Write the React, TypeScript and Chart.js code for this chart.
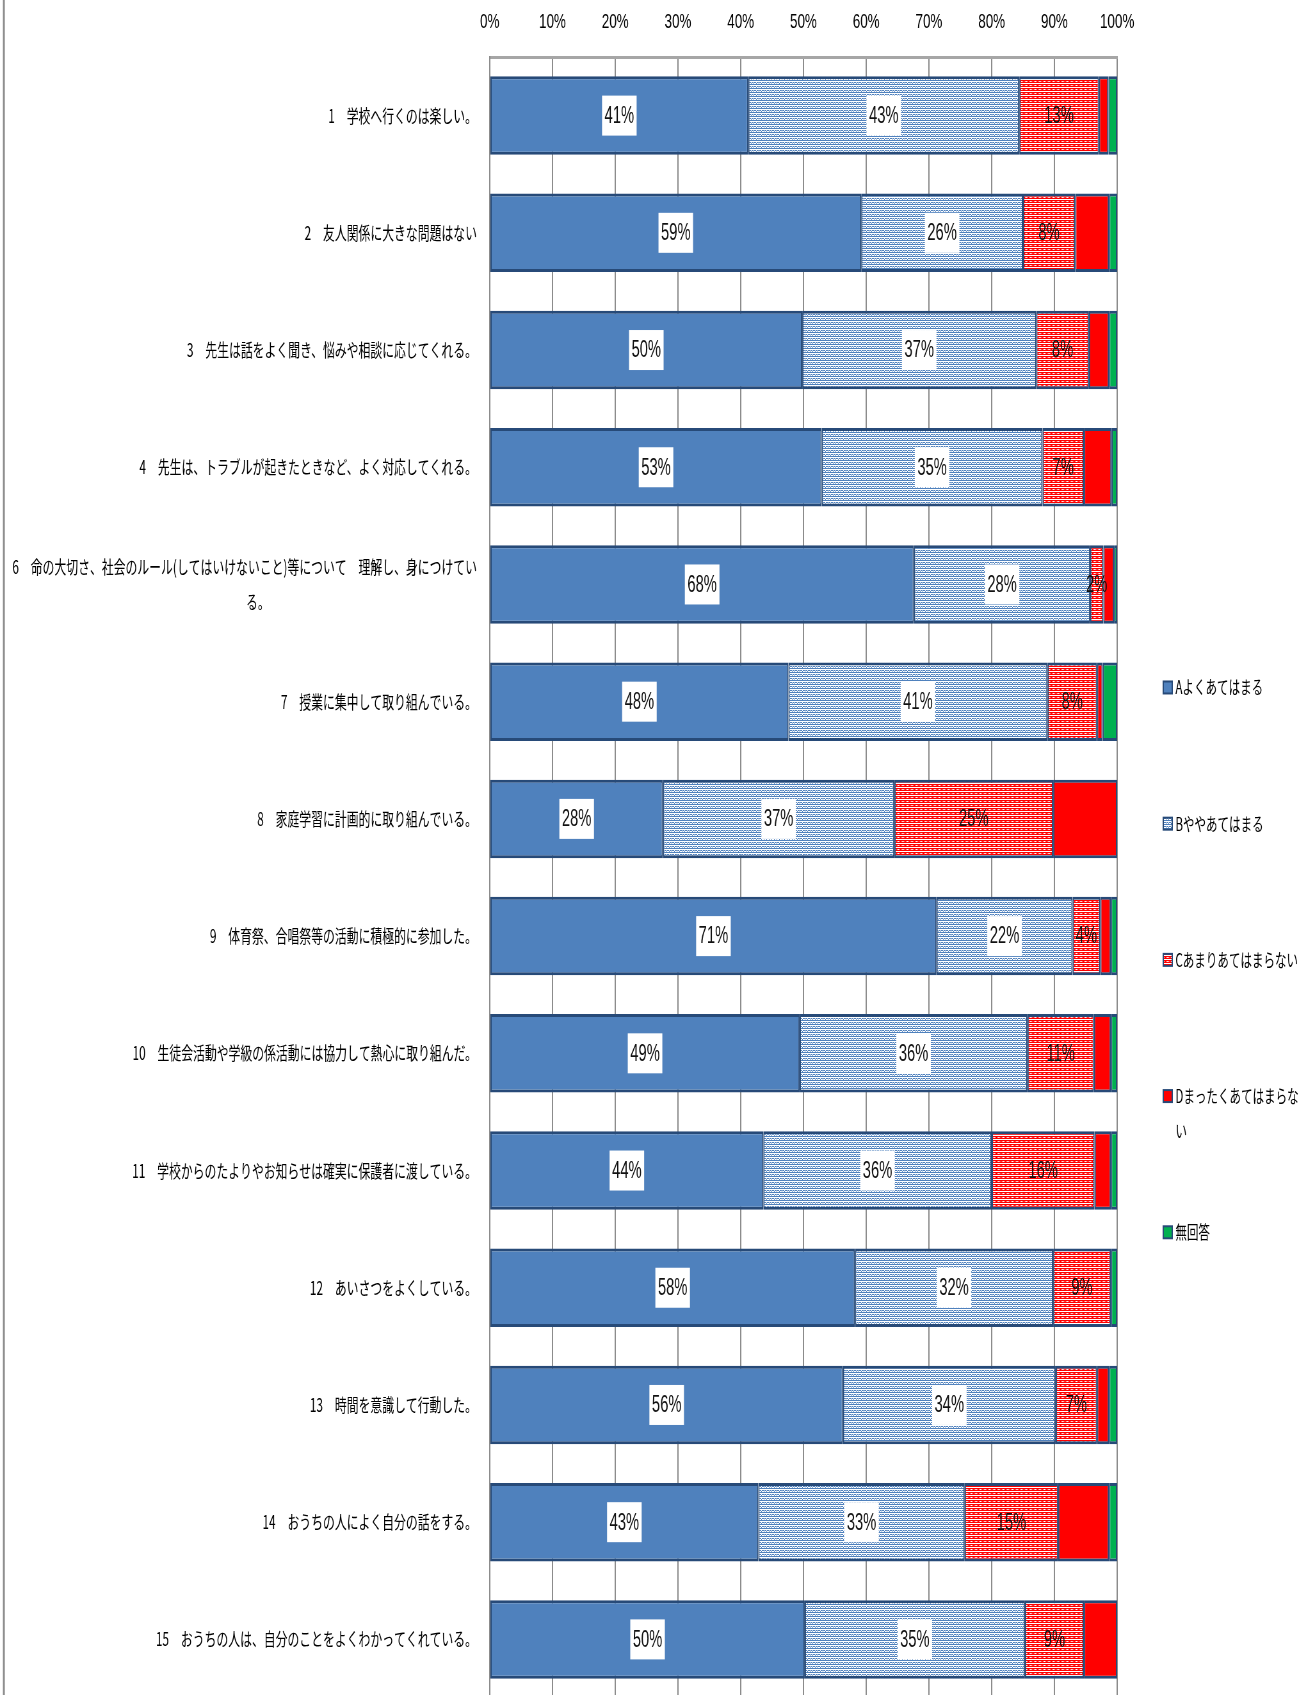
import React, { useEffect, useRef } from 'react';
import { Chart, registerables } from 'chart.js';
Chart.register(...registerables);

// ---- data ----
const categories: (string | string[])[] = [
  '1　学校へ行くのは楽しい。',
  '2　友人関係に大きな問題はない',
  '3　先生は話をよく聞き、悩みや相談に応じてくれる。',
  '4　先生は、トラブルが起きたときなど、よく対応してくれる。',
  ['6　命の大切さ、社会のルール(してはいけないこと)等について　理解し、身につけてい', 'る。' + '　'.repeat(18)],
  '7　授業に集中して取り組んでいる。',
  '8　家庭学習に計画的に取り組んでいる。',
  '9　体育祭、合唱祭等の活動に積極的に参加した。',
  '10　生徒会活動や学級の係活動には協力して熱心に取り組んだ。',
  '11　学校からのたよりやお知らせは確実に保護者に渡している。',
  '12　あいさつをよくしている。',
  '13　時間を意識して行動した。',
  '14　おうちの人によく自分の話をする。',
  '15　おうちの人は、自分のことをよくわかってくれている。',
];
const seriesNames = ['Aよくあてはまる', 'Bややあてはまる', 'Cあまりあてはまらない', 'Dまったくあてはまらない', '無回答'];
const legendLines = [['Aよくあてはまる'], ['Bややあてはまる'], ['Cあまりあてはまらない'], ['Dまったくあてはまらな', 'い'], ['無回答']];
const valuesA = [41.2, 59.2, 49.8, 52.9, 67.6, 47.6, 27.6, 71.2, 49.4, 43.6, 58.2, 56.3, 42.8, 50.2];
const valuesB = [43.2, 25.8, 37.3, 35.2, 28.1, 41.3, 36.9, 21.7, 36.3, 36.4, 31.6, 33.9, 32.9, 35.1];
const valuesC = [12.7, 8.3, 8.4, 6.6, 2.1, 7.9, 25.3, 4.4, 10.6, 16.4, 9.2, 6.6, 14.9, 9.4];
const valuesD = [1.5, 5.4, 3.2, 4.4, 1.7, 0.9, 10.2, 1.7, 2.7, 2.6, 0, 1.9, 8.1, 5.3];
const valuesN = [1.4, 1.3, 1.3, 0.9, 0.5, 2.3, 0, 1.0, 1.0, 1.0, 1.0, 1.3, 1.3, 0];
const xTickLabels = ['0%', '10%', '20%', '30%', '40%', '50%', '60%', '70%', '80%', '90%', '100%'];
const labelledSeries = [0, 1, 2];
const boxedSeries = [0, 1];

// ---- styling / layout ----
const INTERNAL_W = 2040;
const INTERNAL_H = 1700;
const DISPLAY_W = 1306;
const BORDER = '#274a78';
const NUM_FONT = "'Liberation Sans Narrow', 'Liberation Sans', sans-serif";
const JP_FONT = "'Noto Sans CJK JP', sans-serif";

function makePattern(bg: string, fg: string, cells: [number, number][], w: number, h: number) {
  const c = document.createElement('canvas');
  c.width = w;
  c.height = h;
  const g = c.getContext('2d')!;
  g.fillStyle = bg;
  g.fillRect(0, 0, w, h);
  g.fillStyle = fg;
  cells.forEach(([x, y]) => g.fillRect(x, y, 1, 1));
  const ctx = document.createElement('canvas').getContext('2d')!;
  return ctx.createPattern(c, 'repeat')!;
}

export default function App() {
  const ref = useRef<HTMLCanvasElement>(null);
  useEffect(() => {
    const canvas = ref.current!;
    const patB = makePattern('#ffffff', '#4f81bd', [[0, 0], [1, 0], [2, 0], [3, 0], [0, 2], [2, 2], [1, 3], [3, 2]], 4, 4);
    const patC = makePattern('#ff0000', '#ffffff', [[0, 3], [1, 3], [2, 3], [3, 3], [1, 1], [3, 1]], 4, 4);
    const fills: any[] = ['#4f81bd', patB, patC, '#ff0000', '#00b050'];
    const seriesValues = [valuesA, valuesB, valuesC, valuesD, valuesN];

    const bgPlugin = {
      id: 'bgframe',
      beforeDraw(chart: any) {
        const { ctx, width, height } = chart;
        ctx.save();
        ctx.fillStyle = '#ffffff';
        ctx.fillRect(0, 0, width, height);
        ctx.strokeStyle = '#8c8c8c';
        ctx.lineWidth = 3;
        ctx.beginPath();
        ctx.moveTo(6, 0);
        ctx.lineTo(6, height);
        ctx.stroke();
        ctx.restore();
      },
    };

    const labelPlugin = {
      id: 'segLabels',
      afterDatasetsDraw(chart: any) {
        const { ctx } = chart;
        ctx.save();
        ctx.font = `23px ${NUM_FONT}`;
        ctx.textAlign = 'center';
        ctx.textBaseline = 'middle';
        labelledSeries.forEach((di) => {
          const meta = chart.getDatasetMeta(di);
          meta.data.forEach((el: any, i: number) => {
            const v = seriesValues[di][i];
            if (!v) return;
            const txt = Math.round(v) + '%';
            const cx = (el.x + el.base) / 2;
            const cy = el.y;
            if (boxedSeries.includes(di)) {
              const tw = ctx.measureText(txt).width + 8;
              ctx.fillStyle = '#ffffff';
              ctx.fillRect(cx - tw / 2, cy - 20, tw, 40);
            }
            ctx.fillStyle = '#111111';
            ctx.fillText(txt, cx, cy + 1);
          });
        });
        ctx.restore();
      },
    };

    const legendPlugin = {
      id: 'sideLegend',
      afterDraw(chart: any) {
        const { ctx, chartArea } = chart;
        const h = chartArea.bottom - chartArea.top;
        const x0 = chartArea.right + 72;
        ctx.save();
        ctx.font = `18px ${JP_FONT}`;
        ctx.textAlign = 'left';
        ctx.textBaseline = 'middle';
        legendLines.forEach((lines, i) => {
          const y = chartArea.top + h * (0.3842 + i * 0.083);
          ctx.fillStyle = fills[i];
          ctx.fillRect(x0, y - 6, 14, 12);
          ctx.strokeStyle = BORDER;
          ctx.lineWidth = 2;
          ctx.strokeRect(x0, y - 6, 14, 12);
          ctx.fillStyle = '#000000';
          lines.forEach((ln, j) => ctx.fillText(ln, x0 + 19, y + j * 35));
        });
        ctx.restore();
      },
    };

    const chart = new Chart(canvas, {
      type: 'bar',
      data: {
        labels: categories,
        datasets: seriesNames.map((name, i) => ({
          label: name,
          data: seriesValues[i],
          backgroundColor: fills[i],
          borderColor: BORDER,
          borderWidth: { top: 3, bottom: 3, left: 2, right: 2 },
          borderSkipped: false,
          barPercentage: 0.67,
          categoryPercentage: 1,
        })),
      },
      options: {
        indexAxis: 'y',
        responsive: false,
        maintainAspectRatio: false,
        devicePixelRatio: 1,
        animation: false,
        layout: { padding: { left: 0, right: 295, top: 0, bottom: 2 } },
        plugins: {
          legend: { display: false },
          tooltip: { enabled: false },
        },
        scales: {
          x: {
            position: 'top',
            stacked: true,
            min: 0,
            max: 100,
            ticks: {
              stepSize: 10,
              color: '#000000',
              font: { family: NUM_FONT, size: 21 },
              padding: 22,
              maxRotation: 0,
              callback: (_v: any, i: number) => xTickLabels[i],
            },
            grid: { color: '#8c8c8c', lineWidth: 2, drawTicks: false },
            border: { display: true, color: '#a6a6a6', width: 3 },
            afterFit: (s: any) => { s.height = 57; },
          },
          y: {
            stacked: true,
            ticks: {
              color: '#000000',
              font: { family: JP_FONT, size: 18.5, lineHeight: 1.9 },
              padding: 20,
              autoSkip: false,
            },
            grid: { display: false, drawTicks: false },
            border: { display: true, color: '#8c8c8c', width: 2 },
            afterFit: (s: any) => {
              s.width = 765;
              s.paddingTop = 0;
              s.paddingBottom = 0;
            },
          },
        },
      } as any,
      plugins: [bgPlugin, labelPlugin, legendPlugin],
    });
    return () => chart.destroy();
  }, []);

  return (
    <div style={{ position: 'fixed', left: 0, top: 0, width: DISPLAY_W, height: 1695, overflow: 'hidden', background: '#fff' }}>
      <canvas
        ref={ref}
        width={INTERNAL_W}
        height={INTERNAL_H}
        style={{ width: `${DISPLAY_W}px`, height: `${INTERNAL_H}px`, display: 'block' }}
      />
    </div>
  );
}
